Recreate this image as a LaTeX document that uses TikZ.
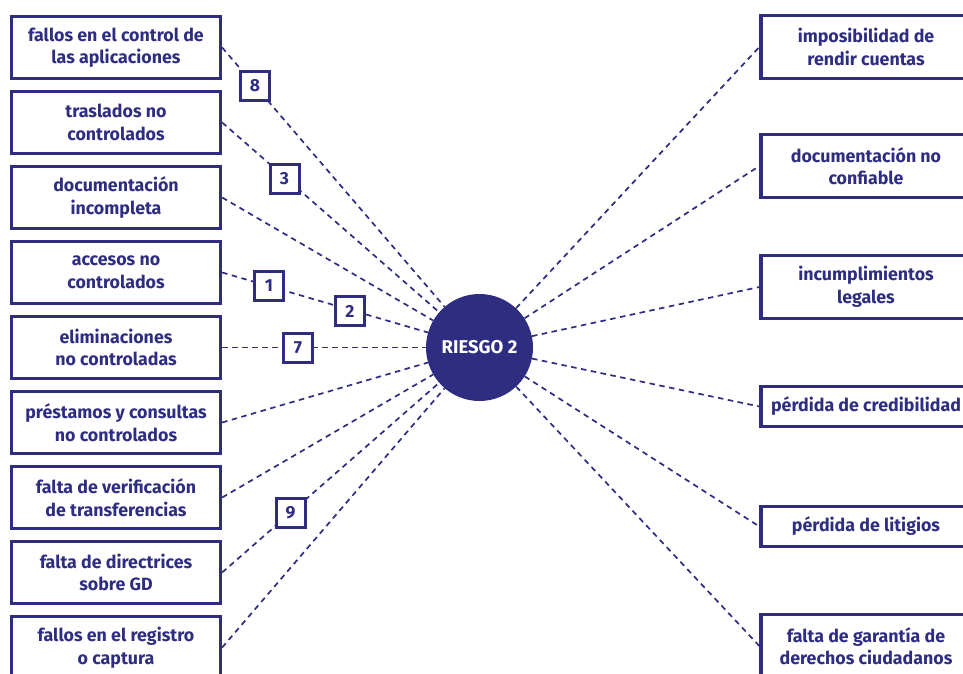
\documentclass[tikz,border=0pt]{standalone}
\usepackage{fontspec}
\setmainfont{Fira Sans}
\definecolor{ink}{RGB}{46,45,130}
\tikzset{
  cause/.style={draw=ink, line width=3.3pt, fill=white, minimum width=209pt, minimum height=62pt,
    align=center, text=ink, font=\fontsize{17.8}{22.5}\selectfont\bfseries, inner sep=0pt},
  effect/.style={draw=ink, line width=3.3pt, fill=white, minimum width=210pt,
    align=center, text=ink, font=\fontsize{17.8}{22.5}\selectfont\bfseries, inner sep=0pt},
  tag/.style={draw=ink, line width=3pt, fill=white, minimum size=29pt, inner sep=0pt,
    text=ink, font=\fontsize{17.5}{18}\selectfont\bfseries},
  link/.style={draw=ink, line width=1.7pt, dash pattern=on 5.5pt off 4.5pt},
  hub/.style={circle, fill=ink, minimum size=107pt, inner sep=0pt, text=white,
    font=\fontsize{18.5}{20}\selectfont\bfseries}
}
\begin{document}
\begin{tikzpicture}[x=1pt, y=-1pt]
\useasboundingbox (0,0) rectangle (963,674);
\begin{scope}
\clip (0,0) rectangle (963,674);
% central risk
\node[hub] (c) at (479.5,347.5) {RIESGO 2};

% causes on the left
\node[cause] (l1) at (116,47.5)  {fallos en el control de\\las aplicaciones};
\node[cause] (l2) at (116,122.5) {traslados no\\controlados};
\node[cause] (l3) at (116,197.5) {documentación\\incompleta};
\node[cause] (l4) at (116,272.5) {accesos no\\controlados};
\node[cause] (l5) at (116,347.5) {eliminaciones\\no controladas};
\node[cause] (l6) at (116,422.5) {préstamos y consultas\\no controlados};
\node[cause] (l7) at (116,497.5) {falta de verificación\\de transferencias};
\node[cause] (l8) at (116,572.5) {falta de directrices\\sobre GD};
\node[cause] (l9) at (116,647.5) {fallos en el registro\\o captura};

% consequences on the right
\node[effect, minimum height=63pt] (r1) at (866,47)  {imposibilidad de\\rendir cuentas};
\node[effect, minimum height=63pt] (r2) at (866,166) {documentación no\\confiable};
\node[effect, minimum height=63pt] (r3) at (866,287) {incumplimientos\\legales};
\node[effect, minimum height=40pt] (r4) at (866,406.5) {pérdida de credibilidad};
\node[effect, minimum height=40pt] (r5) at (866,526.5) {pérdida de litigios};
\node[effect, minimum height=63pt] (r6) at (866,646) {falta de garantía de\\derechos ciudadanos};

% dashed connectors
\foreach \n in {l1,l2,l3,l4,l5,l6,l7,l8,l9}
  \path[link] (\n.east) -- (c);
\foreach \n in {r1,r2,r3,r4,r5,r6}
  \path[link] (c) -- (\n.west);

% numbered markers sitting on the connectors
\node[tag] (t8) at (255,86)  {8};
\node[tag] (t3) at (284.5,178.5) {3};
\node[tag] (t1) at (269,286) {1};
\node[tag] (t2) at (350,311) {2};
\node[tag] (t7) at (298,347.5) {7};
\node[tag] (t9) at (290.5,512.5) {9};
\end{scope}
\end{tikzpicture}
\end{document}
